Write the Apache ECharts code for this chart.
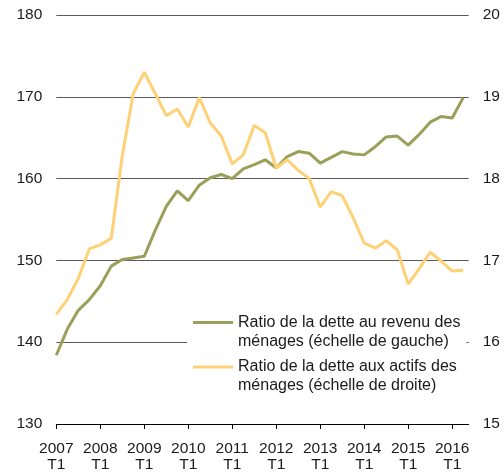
<!DOCTYPE html>
<html>
<head>
<meta charset="utf-8">
<script src="https://cdn.jsdelivr.net/npm/echarts@6/dist/echarts.min.js"></script>
<style>
html,body{margin:0;padding:0;background:#fff;}
#chart{width:504px;height:473px;}
</style>
</head>
<body>
<div id="chart"></div>
<script>
// Quarterly data, 2007 T1 .. 2016 T2
const quarters = [];
const years = ['2007','2008','2009','2010','2011','2012','2013','2014','2015','2016'];
const quarterNames = ['T1','T2','T3','T4'];
// Ratio de la dette au revenu des ménages (left axis, %)
const debtToIncome = [138.4,141.6,143.9,145.2,146.9,149.3,150.1,150.3,150.5,153.7,
  156.6,158.5,157.3,159.2,160.1,160.5,160.0,161.2,161.7,162.3,
  161.3,162.7,163.3,163.1,161.9,162.6,163.3,163.0,162.9,163.9,
  165.1,165.2,164.1,165.4,166.9,167.6,167.4,169.9];
// Ratio de la dette aux actifs des ménages (right axis, %)
const debtToAssets = [16.34,16.52,16.78,17.14,17.19,17.27,18.28,19.04,19.30,19.04,
  18.77,18.85,18.63,18.99,18.68,18.52,18.18,18.29,18.65,18.56,
  18.13,18.23,18.10,18.00,17.65,17.84,17.79,17.52,17.21,17.15,
  17.24,17.13,16.71,16.90,17.10,16.99,16.87,16.88];
const seriesNames = [
  'Ratio de la dette au revenu des\nménages (échelle de gauche)',
  'Ratio de la dette aux actifs des\nménages (échelle de droite)'
];
years.forEach(y => quarterNames.forEach(q => quarters.push(y + ' ' + q)));
quarters.length = debtToIncome.length;

const tickIdx = years.map((y, i) => i * 4);
const font = 'Liberation Sans, Arial, sans-serif';
const txt = '#1a1a1a';

const chart = echarts.init(document.getElementById('chart'), null, {renderer: 'canvas'});
chart.setOption({
  animation: false,
  backgroundColor: '#fff',
  grid: {left: 56.3, right: 35.3, top: 15, bottom: 46, containLabel: false},
  xAxis: {
    type: 'value', min: 0, max: 37.5, interval: 4,
    axisLine: {show: true, lineStyle: {color: '#000', width: 1}},
    axisTick: {show: true, length: 5, lineStyle: {color: '#000'}, customValues: tickIdx},
    axisLabel: {
      customValues: tickIdx, margin: 16, color: txt, fontFamily: font, fontSize: 15.5, lineHeight: 16.5,
      formatter: v => years[Math.round(v / 4)] + '\n' + quarters[v].split(' ')[1]
    },
    splitLine: {show: false}
  },
  yAxis: [
    {type: 'value', min: 130, max: 180, interval: 10, position: 'left',
      axisLine: {show: false}, axisTick: {show: false},
      axisLabel: {margin: 14, color: txt, fontFamily: font, fontSize: 15.5},
      splitLine: {show: true, lineStyle: {color: '#5a5a5a', width: 1}}},
    {type: 'value', min: 15, max: 20, interval: 1, position: 'right',
      axisLine: {show: false}, axisTick: {show: false},
      axisLabel: {margin: 14, color: txt, fontFamily: font, fontSize: 15.5},
      splitLine: {show: false}}
  ],
  legend: [
    {data: [seriesNames[0]], left: 187, top: 294, orient: 'vertical', padding: [0, 6, 4, 6],
      backgroundColor: '#fff', itemWidth: 40, itemHeight: 3, icon: 'rect', selectedMode: false,
      formatter: name => '\n' + name,
      textStyle: {color: txt, fontFamily: font, fontSize: 16, lineHeight: 19}},
    {data: [seriesNames[1]], left: 187, top: 338.5, orient: 'vertical', padding: [0, 6, 0, 6],
      itemWidth: 40, itemHeight: 3, icon: 'rect', selectedMode: false,
      formatter: name => '\n' + name,
      textStyle: {color: txt, fontFamily: font, fontSize: 16, lineHeight: 19}}
  ],
  series: [
    {name: seriesNames[0], type: 'line', yAxisIndex: 0, showSymbol: false, symbol: 'none',
      color: '#9a9f5a', lineStyle: {width: 3, color: '#9a9f5a'},
      data: debtToIncome.map((v, i) => [i, v])},
    {name: seriesNames[1], type: 'line', yAxisIndex: 1, showSymbol: false, symbol: 'none',
      color: '#ffd176', lineStyle: {width: 3, color: '#ffd176'},
      data: debtToAssets.map((v, i) => [i, v])}
  ]
});
</script>
</body>
</html>
